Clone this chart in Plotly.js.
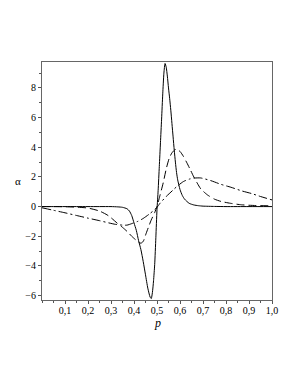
<!DOCTYPE html>
<html>
<head>
<meta charset="utf-8">
<script src="https://cdn.plot.ly/plotly-3.0.1.min.js"></script>
<style>html,body{margin:0;padding:0;background:#fff;}#chart{width:298px;height:385px;}</style>
</head>
<body>
<div id="chart"></div>
<script>
// Solid curve
var pSolid = [0, 0.05, 0.1, 0.15, 0.2, 0.25, 0.3, 0.33, 0.35, 0.37, 0.38, 0.39, 0.40, 0.41, 0.42, 0.43, 0.44, 0.45, 0.46, 0.47, 0.475, 0.48, 0.485, 0.49, 0.495, 0.50, 0.505, 0.51, 0.515, 0.52, 0.525, 0.53, 0.535, 0.54, 0.545, 0.55, 0.555, 0.56, 0.565, 0.57, 0.575, 0.58, 0.585, 0.59, 0.60, 0.61, 0.62, 0.64, 0.66, 0.68, 0.70, 0.75, 0.8, 0.9, 1.0];
var alphaSolid = [0, 0, 0, 0, 0, 0, 0, -0.02, -0.05, -0.15, -0.3, -0.6, -1.1, -1.6, -2.3, -2.9, -3.7, -4.6, -5.5, -6.1, -6.2, -5.8, -5.0, -3.9, -2.1, -0.2, 1.1, 2.7, 4.3, 5.9, 7.6, 9.0, 9.65, 9.4, 8.8, 8.0, 7.3, 6.5, 5.6, 4.7, 3.8, 3.0, 2.3, 1.8, 1.15, 0.75, 0.5, 0.22, 0.11, 0.06, 0.03, 0.01, 0, 0, 0];

// Dashed curve
var pDashed = [0, 0.05, 0.1, 0.15, 0.2, 0.25, 0.283, 0.3, 0.327, 0.35, 0.371, 0.39, 0.408, 0.42, 0.43, 0.44, 0.453, 0.465, 0.475, 0.49, 0.5, 0.512, 0.527, 0.541, 0.553, 0.564, 0.575, 0.585, 0.6, 0.615, 0.63, 0.645, 0.66, 0.675, 0.69, 0.719, 0.75, 0.78, 0.82, 0.867, 0.93, 1.0];
var alphaDashed = [0, 0, -0.01, -0.04, -0.1, -0.3, -0.56, -0.75, -1.12, -1.4, -1.69, -2.0, -2.25, -2.4, -2.47, -2.35, -1.8, -1.3, -0.9, -0.4, 0, 0.7, 1.6, 2.6, 3.25, 3.6, 3.8, 3.87, 3.72, 3.38, 2.95, 2.48, 2.0, 1.58, 1.2, 0.79, 0.5, 0.34, 0.22, 0.12, 0.07, 0.05];

// Dash-dot curve
var pDashDot = [0, 0.05, 0.1, 0.15, 0.2, 0.25, 0.29, 0.32, 0.35, 0.37, 0.39, 0.416, 0.44, 0.467, 0.49, 0.5, 0.512, 0.54, 0.571, 0.586, 0.615, 0.64, 0.66, 0.69, 0.734, 0.778, 0.822, 0.87, 0.911, 0.95, 1.0];
var alphaDashDot = [-0.08, -0.25, -0.42, -0.6, -0.78, -0.95, -1.1, -1.2, -1.25, -1.25, -1.15, -1.0, -0.8, -0.5, -0.2, -0.05, 0.2, 0.68, 1.13, 1.35, 1.69, 1.85, 1.92, 1.93, 1.75, 1.5, 1.3, 1.05, 0.88, 0.68, 0.45];

var xTicks = [0.1, 0.2, 0.3, 0.4, 0.5, 0.6, 0.7, 0.8, 0.9, 1.0];
var xTickText = ["0,1", "0,2", "0,3", "0,4", "0,5", "0,6", "0,7", "0,8", "0,9", "1,0"];
var yTicks = [-6, -4, -2, 0, 2, 4, 6, 8];
var yTickText = ["\u22126", "\u22124", "\u22122", "0", "2", "4", "6", "8"];

var lineCol = '#000';
var traces = [
  {x: pSolid, y: alphaSolid, mode: 'lines', line: {color: lineCol, width: 1, shape: 'spline', smoothing: 0.6}},
  {x: pDashed, y: alphaDashed, mode: 'lines', line: {color: lineCol, width: 1, dash: '8px,4px', shape: 'spline', smoothing: 0.6}},
  {x: pDashDot, y: alphaDashDot, mode: 'lines', line: {color: lineCol, width: 1, dash: '9px,3px,2px,3px', shape: 'spline', smoothing: 0.6}}
];

var serif = 'Liberation Serif';
var fontTick = {family: serif, size: 10, color: '#000'};
var layout = {
  width: 298, height: 385,
  margin: {l: 42, r: 26, t: 62, b: 85},
  paper_bgcolor: '#fff', plot_bgcolor: '#fff',
  showlegend: false,
  xaxis: {
    range: [0, 1.0], tickvals: xTicks, ticktext: xTickText,
    ticks: 'outside', ticklen: 3, tickcolor: '#555', tickwidth: 1,
    ticklabelstandoff: -2,
    showline: true, linecolor: '#666', linewidth: 1, mirror: true,
    showgrid: false, zeroline: false, tickfont: fontTick,
    minor: {dtick: 0.05, tick0: 0, ticks: 'outside', ticklen: 2, tickcolor: '#555', showgrid: false}
  },
  yaxis: {
    range: [-6.3, 9.75], tickvals: yTicks, ticktext: yTickText,
    ticks: 'outside', ticklen: 3, tickcolor: '#555', tickwidth: 1,
    showline: true, linecolor: '#666', linewidth: 1, mirror: true,
    showgrid: false, zeroline: false, tickfont: fontTick,
    minor: {dtick: 1, tick0: 0, ticks: 'outside', ticklen: 2, tickcolor: '#555', showgrid: false}
  },
  annotations: [
    {text: 'α', xref: 'paper', yref: 'paper', x: -0.105, y: 0.5, xanchor: 'center', yanchor: 'middle', showarrow: false, font: {family: serif, size: 11, color: '#000'}},
    {text: '<i>p</i>', xref: 'paper', yref: 'paper', x: 0.5, y: -0.097, xanchor: 'center', yanchor: 'middle', showarrow: false, font: {family: serif, size: 12, color: '#000'}}
  ]
};

Plotly.newPlot('chart', traces, layout, {displayModeBar: false, staticPlot: true});
</script>
</body>
</html>
